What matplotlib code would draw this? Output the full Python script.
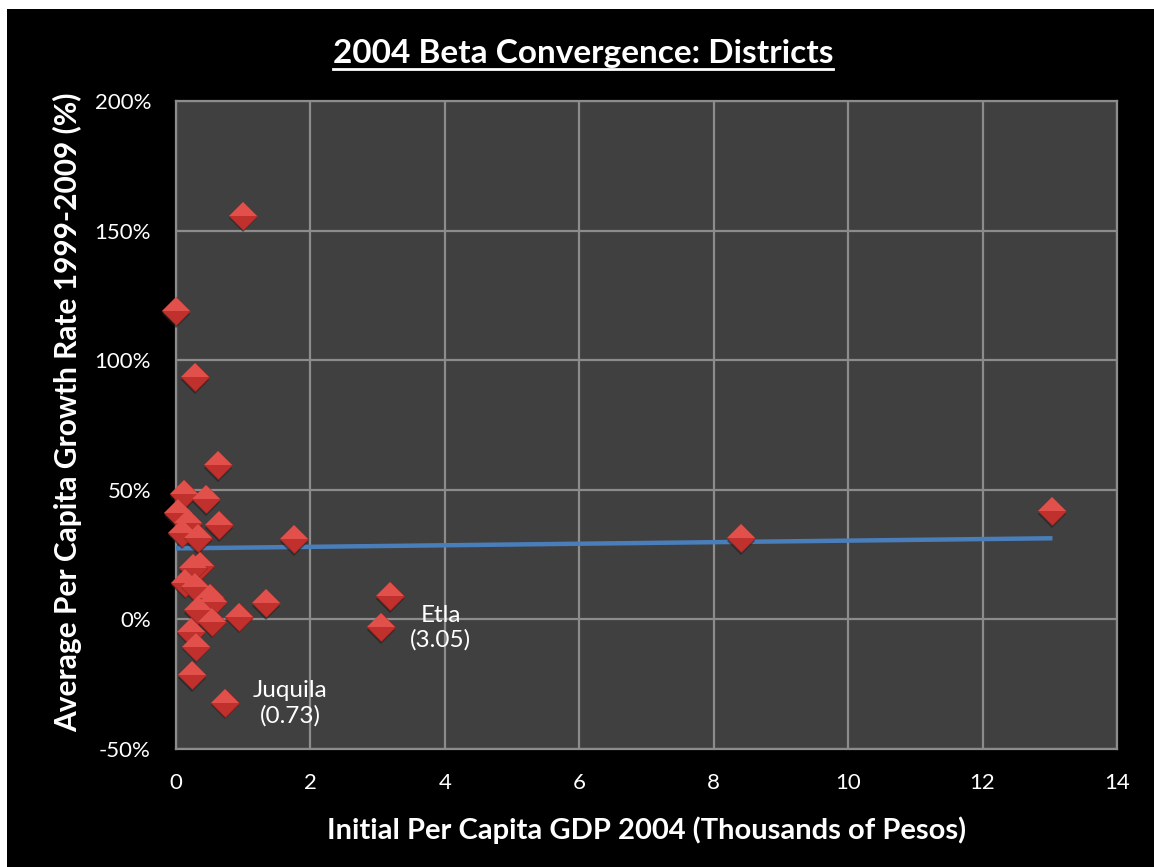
import matplotlib
matplotlib.use("Agg")
import matplotlib.pyplot as plt
from matplotlib.patches import Rectangle
from matplotlib.lines import Line2D

plt.rcParams['font.family'] = ['Lato', 'DejaVu Sans']

# Initial per capita GDP 2004 (thousands of pesos) and average growth (%)
gdp_2004 = [0.99, 0.00, 0.28, 0.62, 0.12, 0.44, 0.035, 0.18, 0.64, 0.085,
            0.33, 1.75, 0.36, 0.26, 0.13, 0.28, 0.51, 0.555, 0.33, 0.53,
            0.93, 1.34, 0.22, 0.30, 0.24, 0.73, 3.19, 3.05, 8.40, 13.04]
growth = [155.8, 119.0, 93.4, 59.6, 48.4, 46.4, 40.9, 37.0, 36.4, 33.5,
          31.3, 31.0, 20.7, 19.7, 14.2, 12.6, 8.1, 6.8, 3.6, -0.9,
          1.0, 6.2, -4.7, -10.5, -21.5, -32.1, 9.0, -3.0, 31.3, 41.8]

# linear trend line as drawn in the original (end points)
trend_x = [0.0, 13.04]
trend_y = [27.4, 31.3]

x_ticks = [0, 2, 4, 6, 8, 10, 12, 14]
y_ticks = [-50, 0, 50, 100, 150, 200]

fig = plt.figure(figsize=(11.54, 8.67), dpi=100, facecolor='white')
# black slide background (original has a thin white strip on top/left)
fig.patches.append(Rectangle((7 / 1154, 0), 1, 1 - 9 / 867, transform=fig.transFigure,
                             facecolor='black', edgecolor='none', zorder=-10))

ax = fig.add_axes([176 / 1154, 1 - 749 / 867, (1117 - 176) / 1154, (749 - 101) / 867])
ax.set_facecolor('#404040')
ax.set_xlim(0, 14)
ax.set_ylim(-50, 200)
ax.set_xticks(x_ticks)
ax.set_yticks(y_ticks)
ax.set_yticklabels([f'{v}%' for v in y_ticks])
ax.grid(True, color='#8c8c8c', linewidth=1.6)
ax.set_axisbelow(True)
for s in ax.spines.values():
    s.set_color('#8c8c8c')
    s.set_linewidth(1.6)
ax.tick_params(colors='white', labelsize=16, length=0)
ax.tick_params(axis='x', pad=17)
ax.tick_params(axis='y', pad=18)
for lab in ax.get_xticklabels() + ax.get_yticklabels():
    lab.set_color('white')

# trend line
ax.plot(trend_x, trend_y, color='#4a7ebb', linewidth=3.2, solid_capstyle='butt', zorder=4)

# shadow then markers, with a lighter upper half for a bevelled look
ax.plot(gdp_2004, [g - 1.0 for g in growth], linestyle='none', marker='D', markersize=14,
        color='#1e1e1e', alpha=0.6, markeredgewidth=0, zorder=5, clip_on=False)
ax.plot(gdp_2004, growth, linestyle='none', marker='D', markersize=14,
        markerfacecolor='#c0312e', markeredgecolor='#a02522', markeredgewidth=0.6,
        zorder=6, clip_on=False)
ax.plot(gdp_2004, growth, linestyle='none', marker='D', markersize=14,
        fillstyle='top', markerfacecolor='#e2504b', markerfacecoloralt='none',
        markeredgewidth=0, zorder=7, clip_on=False)

ax.text(3.94, -3.3, 'Etla\n(3.05)', color='white', fontsize=17.5, ha='center', va='center',
        linespacing=1.2)
ax.text(1.70, -32.3, 'Juquila\n(0.73)', color='white', fontsize=17.5, ha='center', va='center',
        linespacing=1.2)

ax.set_xlabel('Initial Per Capita GDP 2004 (Thousands of Pesos)', color='white',
              fontsize=21, fontweight='bold', labelpad=17)
ax.set_ylabel('Average Per Capita Growth Rate 1999-2009 (%)', color='white',
              fontsize=21.5, fontweight='bold')
ax.yaxis.set_label_coords(-0.1, 0.519)

title = fig.text(583 / 1154, 1 - 54 / 867, '2004 Beta Convergence: Districts', color='white',
                 fontsize=24, fontweight='bold', ha='center', va='center')

# underline the title
fig.canvas.draw()
bb = title.get_window_extent().transformed(fig.transFigure.inverted())
fig.lines.append(Line2D([bb.x0, bb.x1], [bb.y0 - 0.001, bb.y0 - 0.001],
                        transform=fig.transFigure, color='white', linewidth=2))

fig.savefig('out.png', dpi=100, facecolor=fig.get_facecolor())
